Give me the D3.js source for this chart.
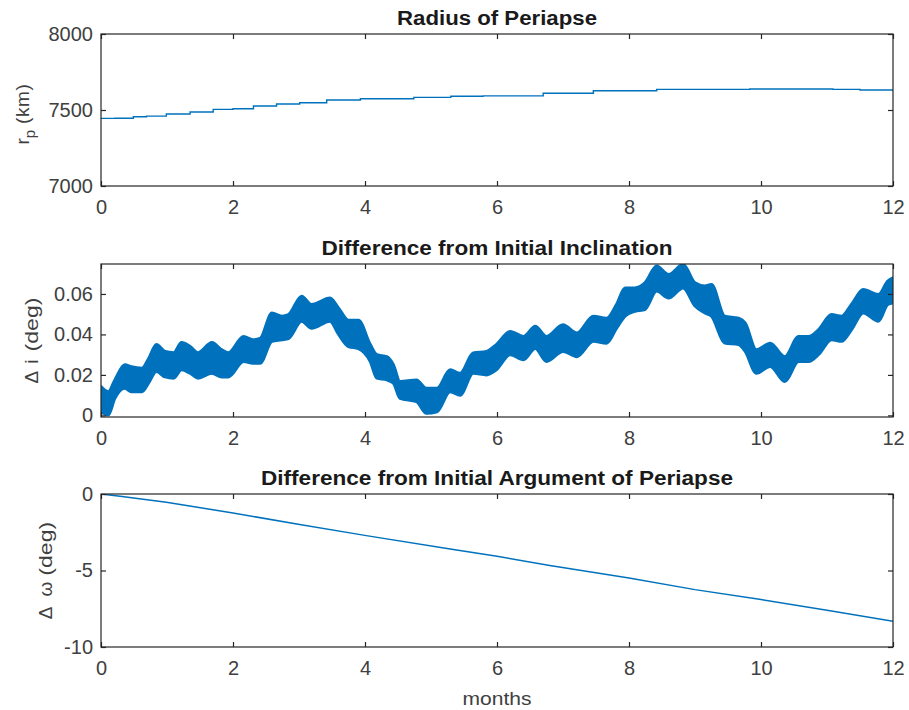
<!DOCTYPE html>
<html>
<head>
<meta charset="utf-8">
<script src="https://cdn.jsdelivr.net/npm/d3@7"></script>
<style>
  body { margin: 0; background: #fff; }
  svg text { font-family: "Liberation Sans", Arial, sans-serif; }
  .tick-label { font-size: 20px; fill: #404040; }
  .title { font-size: 20px; font-weight: bold; fill: #1a1a1a; }
  .axis-label { font-size: 19px; fill: #404040; }
</style>
</head>
<body>
<svg id="chart" width="909" height="710"></svg>
<script>
// ----------

const LINE_COLOR = "#0072BD";
const AXIS_COLOR = "#262626";

const MONTH_TICKS = [0, 2, 4, 6, 8, 10, 12];

// radius of periapse (km)
const rpMonths = [0, 0.21, 0.49, 0.69, 0.99, 1.35, 1.7, 2.0, 2.31, 2.66, 3.01, 3.42, 3.93, 4.74, 5.3, 5.79, 6.7, 7.46, 8.42, 9.83, 11.09, 11.5, 12];
const rpValues = [7445, 7446, 7456, 7460, 7474, 7487, 7504, 7508, 7526, 7539, 7548, 7566, 7574, 7583, 7590, 7593, 7610, 7627, 7636, 7638, 7636, 7632, 7625];
const RP_TICKS = [7000, 7500, 8000];

// change in inclination (deg): upper and lower edge of the band
const incMonths = [
  0, 0.11, 0.21, 0.36, 0.46, 0.62, 0.72, 0.84, 0.97, 1.1, 1.22, 1.35, 1.47, 1.68, 1.83, 1.93,
  2.16, 2.3, 2.41, 2.59, 2.74, 2.84, 3.04, 3.19, 3.47, 3.6, 3.75, 3.9,
  4.08, 4.18, 4.33, 4.43, 4.53, 4.78, 4.93, 5.09, 5.29, 5.44, 5.64, 5.84, 5.99,
  6.2, 6.4, 6.58, 6.75, 7.0, 7.21, 7.46, 7.66, 7.81,
  7.94, 8.09, 8.24, 8.42, 8.6, 8.82, 9.0, 9.15, 9.25, 9.45, 9.66, 9.76, 9.93,
  10.14, 10.36, 10.57, 10.72, 10.87, 11.07, 11.22, 11.37, 11.55, 11.78, 11.92, 12.0
];
const incUpper = [
  0.0142, 0.0117, 0.0175, 0.025, 0.024, 0.0233, 0.028, 0.035, 0.0316, 0.031, 0.036, 0.034, 0.031, 0.036, 0.0324, 0.031,
  0.039, 0.0374, 0.038, 0.0506, 0.049, 0.0498, 0.0589, 0.0548, 0.058, 0.053, 0.047, 0.047,
  0.035, 0.030, 0.029, 0.025, 0.0167, 0.0175, 0.0134, 0.0134, 0.0225, 0.0208, 0.0308, 0.0316, 0.035,
  0.0415, 0.039, 0.044, 0.039, 0.0448, 0.0407, 0.049, 0.048, 0.0548,
  0.063, 0.063, 0.0655, 0.0738, 0.0696, 0.0746, 0.0655, 0.0639, 0.0647, 0.049, 0.048, 0.0457, 0.0324,
  0.0357, 0.029, 0.039, 0.039, 0.0423, 0.0498, 0.049, 0.0548, 0.0622, 0.0597, 0.0663, 0.068
];
const incLower = [
  0.0018, 0.0002, 0.0084, 0.0134, 0.0117, 0.0117, 0.0159, 0.0217, 0.019, 0.0184, 0.0225, 0.0208, 0.0184, 0.0208, 0.019, 0.019,
  0.0266, 0.0258, 0.0258, 0.0366, 0.0374, 0.038, 0.0465, 0.043, 0.0465, 0.040, 0.034, 0.033,
  0.0266, 0.0184, 0.0175, 0.0159, 0.0084, 0.0068, 0.001, 0.0018, 0.0117, 0.010, 0.0208, 0.020, 0.0225,
  0.030, 0.0275, 0.033, 0.0266, 0.0316, 0.029, 0.0366, 0.0357, 0.043,
  0.049, 0.0514, 0.0523, 0.0614, 0.058, 0.063, 0.054, 0.0506, 0.049, 0.0357, 0.035, 0.0316, 0.0208,
  0.0242, 0.0167, 0.0266, 0.0266, 0.030, 0.0374, 0.0366, 0.0423, 0.0506, 0.0465, 0.0548, 0.0556
];
const INC_TICKS = [0, 0.02, 0.04, 0.06];
const INC_TICK_LABELS = ["0", "0.02", "0.04", "0.06"];

// change in argument of periapse (deg)
const argMonths = [0, 0.29, 0.99, 2.0, 3.01, 4.02, 5.29, 6.0, 6.8, 8.0, 9.0, 10.0, 11.0, 12];
const argValues = [0, -0.15, -0.54, -1.24, -2.0, -2.72, -3.6, -4.07, -4.68, -5.49, -6.25, -6.9, -7.6, -8.32];
const ARG_TICKS = [-10, -5, 0];

// ----------

const svg = d3.select("#chart");
const plotLeft = 101;
const plotRight = 893;

const x = d3.scaleLinear().domain([0, 12]).range([plotLeft, plotRight]);

function drawPanel(opts) {
  const g = svg.append("g");
  const y = d3.scaleLinear().domain(opts.domain).range([opts.bottom, opts.top]);

  const clipId = "clip" + opts.top;
  svg.append("clipPath").attr("id", clipId)
    .append("rect")
    .attr("x", plotLeft).attr("y", opts.top)
    .attr("width", plotRight - plotLeft).attr("height", opts.bottom - opts.top);

  // data first so the box sits on top
  const plot = g.append("g").attr("clip-path", "url(#" + clipId + ")");
  opts.draw(plot, y);

  g.append("rect")
    .attr("x", plotLeft).attr("y", opts.top)
    .attr("width", plotRight - plotLeft).attr("height", opts.bottom - opts.top)
    .attr("fill", "none").attr("stroke", AXIS_COLOR).attr("stroke-width", 1.2);

  // inward ticks on all four sides, like a matlab box
  const axisBottom = d3.axisBottom(x).tickValues(MONTH_TICKS).tickSizeInner(-5).tickSizeOuter(0).tickPadding(14);
  const axisTop = d3.axisTop(x).tickValues(MONTH_TICKS).tickSizeInner(-5).tickSizeOuter(0).tickFormat("");
  const axisLeft = d3.axisLeft(y).tickValues(opts.ticks).tickSizeInner(-5).tickSizeOuter(0).tickPadding(8)
    .tickFormat(function (d, i) { return opts.tickLabels ? opts.tickLabels[i] : d; });
  const axisRight = d3.axisRight(y).tickValues(opts.ticks).tickSizeInner(-5).tickSizeOuter(0).tickFormat("");

  [
    [axisBottom, "translate(0," + opts.bottom + ")"],
    [axisTop, "translate(0," + opts.top + ")"],
    [axisLeft, "translate(" + plotLeft + ",0)"],
    [axisRight, "translate(" + plotRight + ",0)"]
  ].forEach(function (a) {
    const ax = g.append("g").attr("transform", a[1]).call(a[0]);
    ax.select(".domain").remove();
    ax.selectAll("line").attr("stroke", AXIS_COLOR).attr("stroke-width", 1.2);
    ax.selectAll("text").attr("class", "tick-label").attr("font-size", null).attr("font-family", null);
  });

  g.append("text")
    .attr("class", "title")
    .attr("x", (plotLeft + plotRight) / 2)
    .attr("y", opts.top - 9)
    .attr("text-anchor", "middle")
    .attr("textLength", opts.titleWidth)
    .attr("lengthAdjust", "spacingAndGlyphs")
    .text(opts.title);

  const label = g.append("text")
    .attr("class", "axis-label")
    .attr("transform", "translate(" + opts.labelX + "," + (opts.top + opts.bottom) / 2 + ") rotate(-90)")
    .attr("text-anchor", "middle");
  opts.label(label);
}

drawPanel({
  top: 34, bottom: 186,
  domain: [7000, 8000],
  ticks: RP_TICKS,
  title: "Radius of Periapse",
  titleWidth: 200,
  labelX: 29,
  label: function (t) {
    t.attr("x", -4);
    t.append("tspan").text("r");
    t.append("tspan").attr("font-size", 15).attr("dy", 6).text("p");
    t.append("tspan").attr("dy", -6).attr("letter-spacing", 0.6).text(" (km)");
  },
  draw: function (plot, y) {
    const line = d3.line().x(function (d, i) { return x(rpMonths[i]); }).y(function (d) { return y(d); })
      .curve(d3.curveStepAfter);
    plot.append("path").datum(rpValues)
      .attr("d", line).attr("fill", "none")
      .attr("stroke", LINE_COLOR).attr("stroke-width", 1.4);
  }
});

drawPanel({
  top: 264, bottom: 417,
  domain: [-0.0008, 0.0748],
  ticks: INC_TICKS,
  tickLabels: INC_TICK_LABELS,
  title: "Difference from Initial Inclination",
  titleWidth: 351,
  labelX: 38,
  label: function (t) {
    t.append("tspan").text("\u0394");
    t.append("tspan").attr("dx", 7).text("i");
    t.append("tspan").attr("dx", 8).attr("textLength", 54).attr("lengthAdjust", "spacingAndGlyphs").text("(deg)");
  },
  draw: function (plot, y) {
    const area = d3.area()
      .x(function (d, i) { return x(incMonths[i]); })
      .y0(function (d, i) { return y(incLower[i]); })
      .y1(function (d) { return y(d); })
      .curve(d3.curveMonotoneX);
    plot.append("path").datum(incUpper)
      .attr("d", area).attr("fill", LINE_COLOR)
      .attr("stroke", LINE_COLOR).attr("stroke-width", 3).attr("stroke-linejoin", "round");
  }
});

drawPanel({
  top: 494, bottom: 647,
  domain: [-10, 0],
  ticks: ARG_TICKS,
  title: "Difference from Initial Argument of Periapse",
  titleWidth: 472,
  labelX: 52,
  label: function (t) {
    t.append("tspan").text("\u0394");
    t.append("tspan").attr("dx", 10).text("\u03c9");
    t.append("tspan").attr("dx", 6).attr("textLength", 54).attr("lengthAdjust", "spacingAndGlyphs").text("(deg)");
  },
  draw: function (plot, y) {
    const line = d3.line().x(function (d, i) { return x(argMonths[i]); }).y(function (d) { return y(d); });
    plot.append("path").datum(argValues)
      .attr("d", line).attr("fill", "none")
      .attr("stroke", LINE_COLOR).attr("stroke-width", 1.5);
  }
});

svg.append("text")
  .attr("class", "axis-label")
  .attr("x", (plotLeft + plotRight) / 2)
  .attr("y", 705)
  .attr("text-anchor", "middle")
  .attr("textLength", 69)
  .attr("lengthAdjust", "spacingAndGlyphs")
  .text("months");
</script>
</body>
</html>
